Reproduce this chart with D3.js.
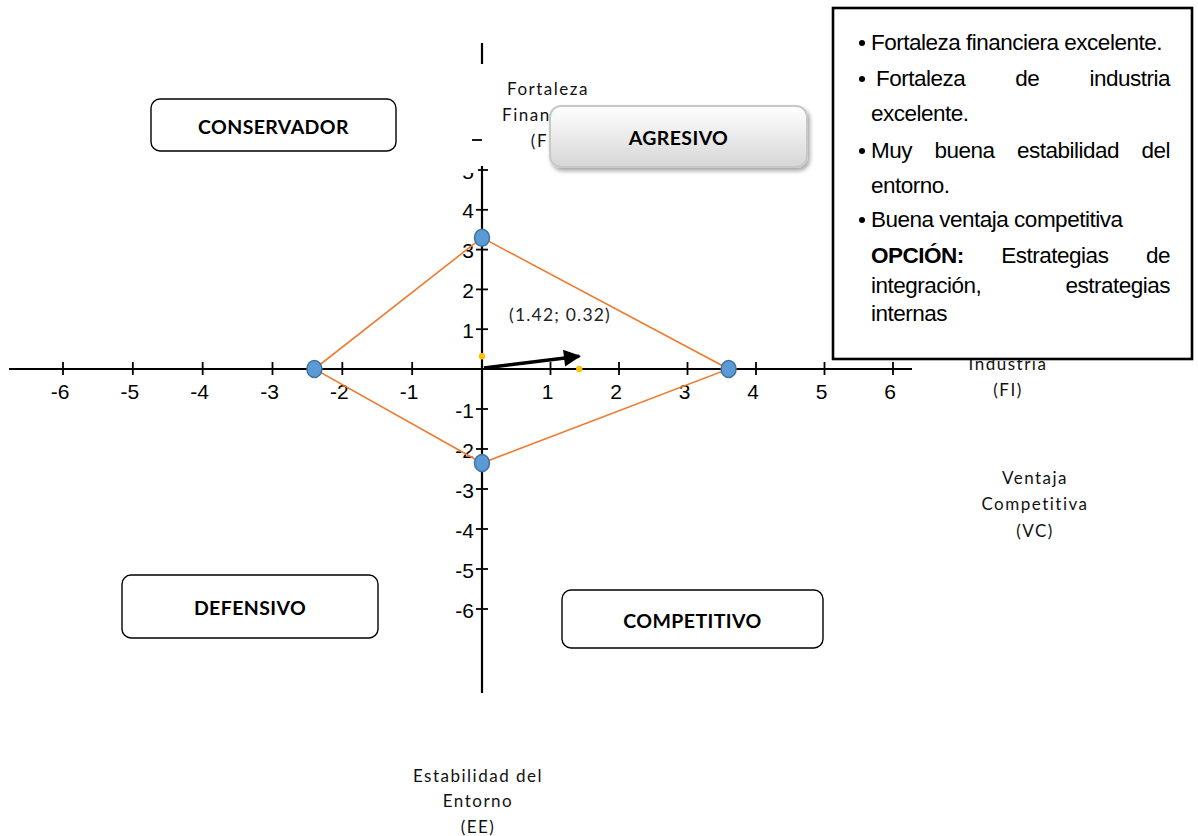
<!DOCTYPE html>
<html>
<head>
<meta charset="utf-8">
<script src="https://cdn.jsdelivr.net/npm/d3@7"></script>
<style>
  body { margin: 0; background: #fff; }
  svg { display: block; }
  text { white-space: pre; }
</style>
</head>
<body>
<svg id="chart" width="1198" height="836"></svg>
<script>
// ---- Data -------------------------------------------------------------
const xTickValues = [-6, -5, -4, -3, -2, -1, 1, 2, 3, 4, 5, 6];
const yTickValues = [-6, -5, -4, -3, -2, -1, 1, 2, 3, 4, 5];

// SPACE matrix factor scores
const factorKeys   = ["FF", "FI", "EE", "VC"];
const factorValues = [3.3, 3.6, -2.35, -2.4];

// Resulting direction vector
const vectorValue = [1.42, 0.32];
const vectorLabel = "(1.42; 0.32)";

const quadrantNames = ["CONSERVADOR", "AGRESIVO", "DEFENSIVO", "COMPETITIVO"];

const titleFF = ["Fortaleza", "Financiera", "(FF)"];
const titleFI = ["Fortaleza de la", "Industria", "(FI)"];
const titleVC = ["Ventaja", "Competitiva", "(VC)"];
const titleEE = ["Estabilidad del", "Entorno", "(EE)"];

const noteLines   = [" Fortaleza financiera excelente.", "  Fortaleza de industria", "excelente.",
                     " Muy buena estabilidad del", "entorno.", " Buena ventaja competitiva",
                     "OPCIÓN: Estrategias de", "integración, estrategias", "internas"];
const noteBullets = [true, true, false, true, false, true, false, false, false];
const noteJustify = [false, true, false, true, false, false, true, true, false];

// ---- Setup ------------------------------------------------------------
const svg = d3.select("#chart");
const ORANGE = "#ED7D31";
const BLUE = "#5B9BD5";
const BLUE_DARK = "#41719C";
const YELLOW = "#FFC000";
const numFont = "'Liberation Sans', Arial, sans-serif";
const labelFont = "Lato, 'Open Sans', sans-serif";

const x = d3.scaleLinear().domain([-6, 0, 6]).range([63, 482, 893]);
const y = d3.scaleLinear().domain([-6, 0, 5]).range([609, 369, 170]);

const defs = svg.append("defs");

function multiline(lines, cx, cy0, step, g) {
  g.selectAll(null).data(lines).join("text")
    .attr("x", cx)
    .attr("y", (d, i) => cy0 + i * step)
    .attr("text-anchor", "middle")
    .attr("dominant-baseline", "central")
    .attr("font-family", labelFont)
    .attr("font-size", 17)
    .attr("letter-spacing", 1.5)
    .attr("fill", "#111")
    .text(d => d);
}

// ---- Axes -------------------------------------------------------------
const axes = svg.append("g");
axes.append("line")
  .attr("x1", 9).attr("x2", 912)
  .attr("y1", y(0)).attr("y2", y(0))
  .attr("stroke", "#000").attr("stroke-width", 2.2);
axes.append("line")
  .attr("x1", x(0)).attr("x2", x(0))
  .attr("y1", 43).attr("y2", 693)
  .attr("stroke", "#000").attr("stroke-width", 2.2);

// x ticks
axes.selectAll(".xt").data(xTickValues).join("line")
  .attr("class", "xt")
  .attr("x1", d => x(d)).attr("x2", d => x(d))
  .attr("y1", y(0) - 7).attr("y2", y(0) + 6)
  .attr("stroke", "#000").attr("stroke-width", 1.8);
axes.selectAll(".xl").data(xTickValues).join("text")
  .attr("class", "xl")
  .attr("x", d => x(d) - 3)
  .attr("y", y(0) + 22)
  .attr("text-anchor", "middle")
  .attr("dominant-baseline", "central")
  .attr("font-family", numFont)
  .attr("font-size", 21)
  .attr("fill", "#000")
  .text(d => d);

// y ticks
axes.selectAll(".yt").data(yTickValues).join("line")
  .attr("class", "yt")
  .attr("x1", x(0) - 6).attr("x2", x(0) + 6)
  .attr("y1", d => y(d)).attr("y2", d => y(d))
  .attr("stroke", "#000").attr("stroke-width", 1.8);
axes.selectAll(".yl").data(yTickValues).join("text")
  .attr("class", "yl")
  .attr("x", x(0) - 8)
  .attr("y", d => y(d) + 1)
  .attr("text-anchor", "end")
  .attr("dominant-baseline", "central")
  .attr("font-family", numFont)
  .attr("font-size", 21)
  .attr("fill", "#000")
  .text(d => d);

// Fortaleza Financiera title box (white background hides the upper axis)
const ffBox = svg.append("g");
ffBox.append("rect")
  .attr("x", 478).attr("y", 64).attr("width", 132).attr("height", 102)
  .attr("fill", "#fff");
ffBox.append("rect")
  .attr("x", 440).attr("y", 64).attr("width", 38).attr("height", 109)
  .attr("fill", "#fff");
ffBox.append("line")
  .attr("x1", x(0) - 10).attr("x2", x(0))
  .attr("y1", 140).attr("y2", 140)
  .attr("stroke", "#000").attr("stroke-width", 1.8);
multiline(titleFF, 548, 88, 26, ffBox);

// ---- Remaining axis titles --------------------------------------------
multiline(titleFI, 1008, 337, 26, svg.append("g"));
multiline(titleVC, 1035, 477, 26.5, svg.append("g"));
multiline(titleEE, 478, 775, 25.5, svg.append("g"));

// ---- Strategic position polygon ---------------------------------------
const points = factorKeys.map((k, i) => {
  const v = factorValues[i];
  if (k === "FF" || k === "EE") return { key: k, px: x(0), py: y(v) };
  return { key: k, px: x(v), py: y(0) };
});
svg.append("path")
  .attr("d", d3.line().x(d => d.px).y(d => d.py).curve(d3.curveLinearClosed)(points))
  .attr("fill", "none")
  .attr("stroke", ORANGE)
  .attr("stroke-width", 1.6);

svg.selectAll(".pt").data(points).join("ellipse")
  .attr("class", "pt")
  .attr("cx", d => d.px).attr("cy", d => d.py)
  .attr("rx", 7.5).attr("ry", 8.5)
  .attr("fill", BLUE)
  .attr("stroke", BLUE_DARK)
  .attr("stroke-width", 1.5);

// ---- Direction vector -------------------------------------------------
defs.append("marker")
  .attr("id", "head")
  .attr("viewBox", "0 0 10 10")
  .attr("refX", 9).attr("refY", 5)
  .attr("markerUnits", "userSpaceOnUse")
  .attr("markerWidth", 22).attr("markerHeight", 17)
  .attr("orient", "auto")
  .append("path").attr("d", "M0,0 L10,5 L0,10 Z").attr("fill", "#000");

svg.append("line")
  .attr("x1", x(0) + 2).attr("y1", y(0) - 1)
  .attr("x2", x(vectorValue[0])).attr("y2", y(vectorValue[1]))
  .attr("stroke", "#000").attr("stroke-width", 3.5)
  .attr("marker-end", "url(#head)");

// projections of the vector on both axes
svg.selectAll(".proj").data([[0, vectorValue[1]], [vectorValue[0], 0]]).join("circle")
  .attr("class", "proj")
  .attr("cx", d => x(d[0])).attr("cy", d => y(d[1]))
  .attr("r", 3.2)
  .attr("fill", YELLOW);

svg.append("text")
  .attr("x", 560).attr("y", 314)
  .attr("text-anchor", "middle")
  .attr("dominant-baseline", "central")
  .attr("font-family", labelFont)
  .attr("font-size", 17.5)
  .attr("letter-spacing", 1.2)
  .attr("fill", "#222")
  .text(vectorLabel);

// ---- Quadrant boxes ---------------------------------------------------
const grad = defs.append("linearGradient")
  .attr("id", "agrGrad").attr("x1", 0).attr("y1", 0).attr("x2", 0).attr("y2", 1);
grad.append("stop").attr("offset", "0%").attr("stop-color", "#ffffff");
grad.append("stop").attr("offset", "100%").attr("stop-color", "#d6d6d6");
const shadow = defs.append("filter").attr("id", "shadow")
  .attr("x", "-10%").attr("y", "-20%").attr("width", "125%").attr("height", "150%");
shadow.append("feDropShadow")
  .attr("dx", 2).attr("dy", 3).attr("stdDeviation", 2)
  .attr("flood-color", "#000").attr("flood-opacity", 0.35);

const boxes = [
  { x: 151, y: 99,  w: 245, h: 52, fancy: false },
  { x: 550, y: 106, w: 257, h: 61, fancy: true },
  { x: 122, y: 575, w: 256, h: 63, fancy: false },
  { x: 562, y: 590, w: 261, h: 58, fancy: false }
];
const qg = svg.selectAll(".quad").data(quadrantNames).join("g").attr("class", "quad");
qg.append("rect")
  .attr("x", (d, i) => boxes[i].x).attr("y", (d, i) => boxes[i].y)
  .attr("width", (d, i) => boxes[i].w).attr("height", (d, i) => boxes[i].h)
  .attr("rx", (d, i) => boxes[i].fancy ? 11 : 9)
  .attr("fill", (d, i) => boxes[i].fancy ? "url(#agrGrad)" : "#fff")
  .attr("stroke", (d, i) => boxes[i].fancy ? "#c8c8c8" : "#000")
  .attr("stroke-width", (d, i) => boxes[i].fancy ? 2 : 1.4)
  .attr("filter", (d, i) => boxes[i].fancy ? "url(#shadow)" : null);
qg.append("text")
  .attr("x", (d, i) => boxes[i].x + boxes[i].w / 2)
  .attr("y", (d, i) => boxes[i].y + boxes[i].h / 2 + 1)
  .attr("text-anchor", "middle")
  .attr("dominant-baseline", "central")
  .attr("font-family", labelFont)
  .attr("font-weight", 700)
  .attr("font-size", 19.5)
  .attr("letter-spacing", 0.4)
  .attr("fill", "#000")
  .text(d => d);

// ---- Strategy note ----------------------------------------------------
const note = svg.append("g");
note.append("rect")
  .attr("x", 833).attr("y", 8).attr("width", 359).attr("height", 351)
  .attr("fill", "#fff").attr("stroke", "#000").attr("stroke-width", 2.6);

const noteLeft = 871, noteRight = 1170, noteFont = 22.5;
const lineY = [42, 78, 113, 150, 185, 219, 255, 285, 313];

noteLines.forEach((line, i) => {
  const cy = lineY[i];
  if (noteBullets[i]) {
    note.append("circle").attr("cx", 862).attr("cy", cy + 1).attr("r", 3).attr("fill", "#000");
  }
  const lead = line.match(/^\s*/)[0].length;
  const words = line.trim().split(/\s+/);
  const mk = (w, bold) => note.append("text")
    .attr("y", cy)
    .attr("dominant-baseline", "central")
    .attr("font-family", numFont)
    .attr("font-size", noteFont)
    .attr("font-weight", bold ? 700 : 400)
    .attr("letter-spacing", -0.5)
    .attr("fill", "#000")
    .text(w);
  const startX = noteLeft + Math.max(0, lead - 1) * 5;
  if (!noteJustify[i]) {
    mk(words.join(" "), false).attr("x", startX);
    return;
  }
  const nodes = words.map((w, j) => mk(w, i === 6 && j === 0));
  const widths = nodes.map(n => n.node().getComputedTextLength());
  const total = d3.sum(widths);
  const gap = (noteRight - startX - total) / (words.length - 1);
  let cx = startX;
  nodes.forEach((n, j) => { n.attr("x", cx); cx += widths[j] + gap; });
});
</script>
</body>
</html>
